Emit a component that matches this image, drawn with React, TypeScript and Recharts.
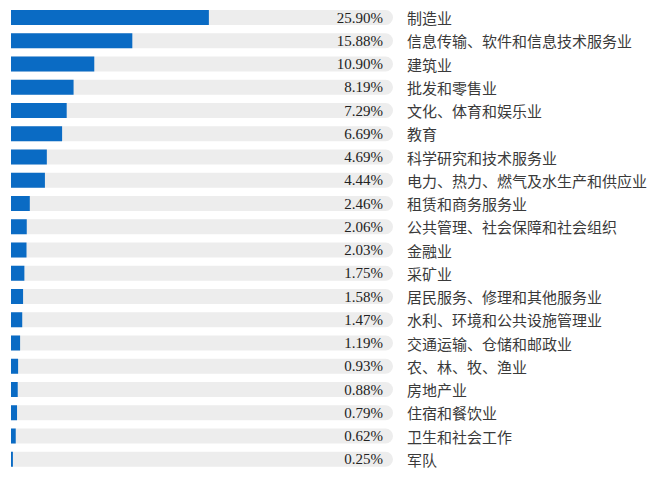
import React from "react";
import { BarChart, Bar, XAxis, YAxis, LabelList } from "recharts";

const categories = [
    "制造业",
    "信息传输、软件和信息技术服务业",
    "建筑业",
    "批发和零售业",
    "文化、体育和娱乐业",
    "教育",
    "科学研究和技术服务业",
    "电力、热力、燃气及水生产和供应业",
    "租赁和商务服务业",
    "公共管理、社会保障和社会组织",
    "金融业",
    "采矿业",
    "居民服务、修理和其他服务业",
    "水利、环境和公共设施管理业",
    "交通运输、仓储和邮政业",
    "农、林、牧、渔业",
    "房地产业",
    "住宿和餐饮业",
    "卫生和社会工作",
    "军队",
];

const shares = [
    25.9, 15.88, 10.9, 8.19, 7.29, 6.69, 4.69, 4.44, 2.46, 2.06,
    2.03, 1.75, 1.58, 1.47, 1.19, 0.93, 0.88, 0.79, 0.62, 0.25,
];

const xDomain = [0, 50];

const data = categories.map((name, i) => ({ name, share: shares[i] }));

const WIDTH = 660;
const HEIGHT = 484;
const LEFT = 11;
const AXIS_W = 267;
const PLOT_RIGHT = WIDTH - AXIS_W;

function ShareLabel(props: any) {
    const { y, height, value } = props;
    return (
        <text
            x={PLOT_RIGHT - 10}
            y={y + height / 2}
            textAnchor="end"
            dominantBaseline="central"
            style={{ fontFamily: "'Liberation Serif', 'DejaVu Serif', serif", fontSize: 15 }}
            fill="#222"
        >
            {Number(value).toFixed(2)}%
        </text>
    );
}

function NameTick(props: any) {
    const { y, payload } = props;
    return (
        <text
            x={PLOT_RIGHT + 14}
            y={y}
            textAnchor="start"
            dominantBaseline="central"
            style={{ fontFamily: "'Noto Sans CJK SC', sans-serif", fontSize: 15 }}
            fill="#3a3a3a"
        >
            {payload.value}
        </text>
    );
}

export default function App() {
    return (
        <div style={{ margin: "-8px", width: WIDTH, height: HEIGHT, background: "#fff" }}>
            <BarChart
                width={WIDTH}
                height={HEIGHT}
                data={data}
                layout="vertical"
                margin={{ top: 6, right: 0, bottom: 13, left: LEFT }}
            >
                <XAxis type="number" domain={xDomain} hide />
                <YAxis
                    type="category"
                    dataKey="name"
                    orientation="right"
                    width={AXIS_W}
                    axisLine={false}
                    tickLine={false}
                    tick={<NameTick />}
                    interval={0}
                />
                <Bar
                    dataKey="share"
                    fill="#0a6bc4"
                    barSize={15}
                    background={{ fill: "#ededed", radius: [0, 8, 8, 0] }}
                    isAnimationActive={false}
                >
                    <LabelList dataKey="share" content={<ShareLabel />} />
                </Bar>
            </BarChart>
        </div>
    );
}
